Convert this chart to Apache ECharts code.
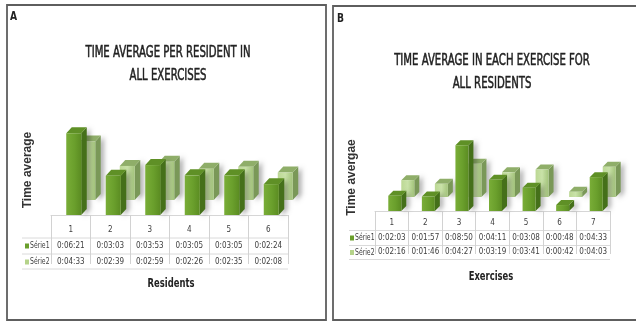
<!DOCTYPE html>
<html>
<head>
<meta charset="utf-8">
<script src="https://cdn.jsdelivr.net/npm/echarts@6/dist/echarts.min.js"></script>
<style>
  html, body { margin: 0; padding: 0; background: #fff; }
  #chart { width: 636px; height: 322px; }
</style>
</head>
<body>
<div id="chart"></div>
<script>
// Panel A: average time per resident over all exercises
const residents = ['1', '2', '3', '4', '5', '6'];
const residentSerie1 = ['0:06:21', '0:03:03', '0:03:53', '0:03:05', '0:03:05', '0:02:24'];
const residentSerie2 = ['0:04:33', '0:02:39', '0:02:59', '0:02:26', '0:02:35', '0:02:08'];

// Panel B: average time in each exercise over all residents
const exercises = ['1', '2', '3', '4', '5', '6', '7'];
const exerciseSerie1 = ['0:02:03', '0:01:57', '0:08:50', '0:04:11', '0:03:08', '0:00:48', '0:04:33'];
const exerciseSerie2 = ['0:02:16', '0:01:46', '0:04:27', '0:03:19', '0:03:41', '0:00:42', '0:04:03'];

const seriesNames = ['Série1', 'Série2'];

function toSeconds(t) {
  const p = t.split(':').map(Number);
  return p[0] * 3600 + p[1] * 60 + p[2];
}
function toData(list) {
  return list.map((t, i) => [i, toSeconds(t)]);
}

const NARROW = "'Liberation Sans Narrow', 'Arial Narrow', 'DejaVu Sans Condensed', sans-serif";
const SANS = "'Liberation Sans', Arial, sans-serif";

const palette = {
  dark: {
    front: new echarts.graphic.LinearGradient(0, 0, 1, 0, [
      { offset: 0, color: '#79ad37' }, { offset: 0.55, color: '#6a9f2c' }, { offset: 1, color: '#5b8c22' }
    ]),
    side: '#45701a',
    top: '#5f9026'
  },
  light: {
    front: new echarts.graphic.LinearGradient(0, 0, 1, 0, [
      { offset: 0, color: '#bcd894' }, { offset: 0.5, color: '#c9e2a8' }, { offset: 1, color: '#a3c47b' }
    ]),
    side: '#7a9858',
    top: '#8fae69'
  }
};

// 3D column drawn from the axis coordinates, with a pixel depth offset for the back row
function bar3D(cfg) {
  return function (params, api) {
    const i = api.value(0);
    const v = api.value(1);
    const base = api.coord([i, 0]);
    const top = api.coord([i, v]);
    const w = cfg.width, dx = cfg.dx, dy = cfg.dy;
    const x0 = base[0] + cfg.shiftX - w / 2 + cfg.rowX;
    const yb = base[1] + cfg.rowY;
    const yt = top[1] + cfg.rowY;
    const c = cfg.colors;
    return {
      type: 'group',
      children: [
        {
          type: 'polygon',
          shape: { points: [[x0 + w, yt], [x0 + w + dx, yt + dy], [x0 + w + dx, yb + dy], [x0 + w, yb]] },
          style: { fill: c.side, shadowBlur: 5, shadowColor: 'rgba(0,0,0,0.35)', shadowOffsetX: 3, shadowOffsetY: 1 }
        },
        {
          type: 'polygon',
          shape: { points: [[x0, yt], [x0 + dx, yt + dy], [x0 + w + dx, yt + dy], [x0 + w, yt]] },
          style: { fill: c.top }
        },
        {
          type: 'rect',
          shape: { x: x0, y: yt, width: w, height: yb - yt },
          style: { fill: c.front }
        }
      ]
    };
  };
}

function tableLabel(s1, s2) {
  return function (value, index) {
    return '{h|' + value + '}\n{v|' + s1[index] + '}\n{v|' + s2[index] + '}';
  };
}

function tableRich(lh) {
  return {
    h: { fontFamily: NARROW, fontSize: 8, color: '#404040', lineHeight: lh, align: 'center' },
    v: { fontFamily: NARROW, fontSize: 8, color: '#404040', lineHeight: lh, align: 'center' }
  };
}

function valueAxis(grid, max, name, gap) {
  return {
    type: 'value', gridIndex: grid, min: 0, max: max,
    axisLine: { show: false }, axisTick: { show: false }, axisLabel: { show: false },
    splitLine: { show: false },
    name: name, nameLocation: 'middle', nameRotate: 90, nameGap: gap,
    nameTextStyle: { fontFamily: SANS, fontWeight: 'bold', fontSize: 12, color: '#333' }
  };
}

function text(x, y, str, size, weight, sx, align, strokeW) {
  const style = {
    text: str, fontFamily: NARROW, fontSize: size, fontWeight: weight,
    fill: '#222', align: align || 'center', verticalAlign: 'middle'
  };
  if (strokeW) {
    style.stroke = '#222';
    style.lineWidth = strokeW;
  }
  return { type: 'text', x: x, y: y, scaleX: sx, silent: true, style: style };
}

function hline(x1, x2, y) {
  return { type: 'line', silent: true, shape: { x1: x1, y1: y, x2: x2, y2: y }, style: { stroke: '#dadada', lineWidth: 1 } };
}

function legendKey(x, y, color, label) {
  return [
    { type: 'rect', silent: true, shape: { x: x, y: y - 2.5, width: 4, height: 5 }, style: { fill: color } },
    { type: 'text', silent: true, x: x + 5, y: y, scaleX: 0.85, style: { text: label, fontFamily: NARROW, fontSize: 8, fill: '#404040', verticalAlign: 'middle' } }
  ];
}

function categoryAxis(grid, data, s1, s2, tickLen, margin, lh) {
  return {
    type: 'category', gridIndex: grid, data: data, offset: 5,
    axisLine: { show: true, lineStyle: { color: '#d6d6d6' } },
    axisTick: { show: true, interval: 0, alignWithLabel: false, inside: false, length: tickLen, lineStyle: { color: '#d2d2d2', width: 1 } },
    axisLabel: { show: true, interval: 0, margin: margin, formatter: tableLabel(s1, s2), rich: tableRich(lh) }
  };
}

const geomA = { width: 15, dx: 5.5, dy: -6, shiftX: 3 };
const geomB = { width: 13, dx: 5, dy: -5, shiftX: 3 };

const chart = echarts.init(document.getElementById('chart'), null, { renderer: 'canvas' });

chart.setOption({
  animation: false,
  backgroundColor: '#fff',
  grid: [
    { left: 51, right: 348, top: 125, bottom: 107 },
    { left: 375, right: 26, top: 144, bottom: 111 }
  ],
  xAxis: [
    categoryAxis(0, residents, residentSerie1, residentSerie2, 49, 2, 16),
    categoryAxis(1, exercises, exerciseSerie1, exerciseSerie2, 43, 0, 14.5)
  ],
  yAxis: [
    valueAxis(0, 420, 'Time average', 17),
    valueAxis(1, 540, 'Time avergae', 17)
  ],
  series: [
    {
      type: 'custom', name: seriesNames[1], xAxisIndex: 0, yAxisIndex: 0, z: 2,
      data: toData(residentSerie2),
      renderItem: bar3D(Object.assign({ rowX: 14, rowY: -15, colors: palette.light }, geomA))
    },
    {
      type: 'custom', name: seriesNames[0], xAxisIndex: 0, yAxisIndex: 0, z: 3,
      data: toData(residentSerie1),
      renderItem: bar3D(Object.assign({ rowX: 0, rowY: 0, colors: palette.dark }, geomA))
    },
    {
      type: 'custom', name: seriesNames[1], xAxisIndex: 1, yAxisIndex: 1, z: 2,
      data: toData(exerciseSerie2),
      renderItem: bar3D(Object.assign({ rowX: 13, rowY: -14, colors: palette.light }, geomB))
    },
    {
      type: 'custom', name: seriesNames[0], xAxisIndex: 1, yAxisIndex: 1, z: 3,
      data: toData(exerciseSerie1),
      renderItem: bar3D(Object.assign({ rowX: 0, rowY: 0, colors: palette.dark }, geomB))
    }
  ],
  graphic: [
    // panel frames
    { type: 'rect', silent: true, z: -1, shape: { x: 7, y: 5, width: 319, height: 315 }, style: { fill: '#fff', stroke: '#5e5e5e', lineWidth: 1.8 } },
    { type: 'rect', silent: true, z: -1, shape: { x: 333, y: 6, width: 320, height: 314 }, style: { fill: '#fff', stroke: '#5e5e5e', lineWidth: 1.8 } },
    // panel letters
    text(10, 17, 'A', 12, 'bold', 0.85, 'left'),
    text(337, 19, 'B', 12, 'bold', 0.85, 'left'),
    // titles
    text(168, 53, 'TIME AVERAGE PER RESIDENT IN', 15, 'normal', 0.75, 'center', 0.5),
    text(168, 76, 'ALL EXERCISES', 15, 'normal', 0.75, 'center', 0.5),
    text(492, 61, 'TIME AVERAGE IN EACH EXERCISE FOR', 15, 'normal', 0.75, 'center', 0.5),
    text(492, 84, 'ALL RESIDENTS', 15, 'normal', 0.75, 'center', 0.5),
    // x axis titles
    text(171, 284, 'Residents', 12, 'bold', 0.78),
    text(491, 277, 'Exercises', 12, 'bold', 0.78),
    // table rules
    hline(22, 288, 238), hline(22, 288, 254), hline(22, 288, 269),
    hline(349, 610, 230.5), hline(349, 610, 245.5), hline(349, 610, 259.5)
  ]
    .concat(legendKey(25, 246, '#6a9f2c', seriesNames[0]))
    .concat(legendKey(25, 262, '#b5d38a', seriesNames[1]))
    .concat(legendKey(350, 238, '#6a9f2c', seriesNames[0]))
    .concat(legendKey(350, 252.5, '#b5d38a', seriesNames[1]))
});
</script>
</body>
</html>
